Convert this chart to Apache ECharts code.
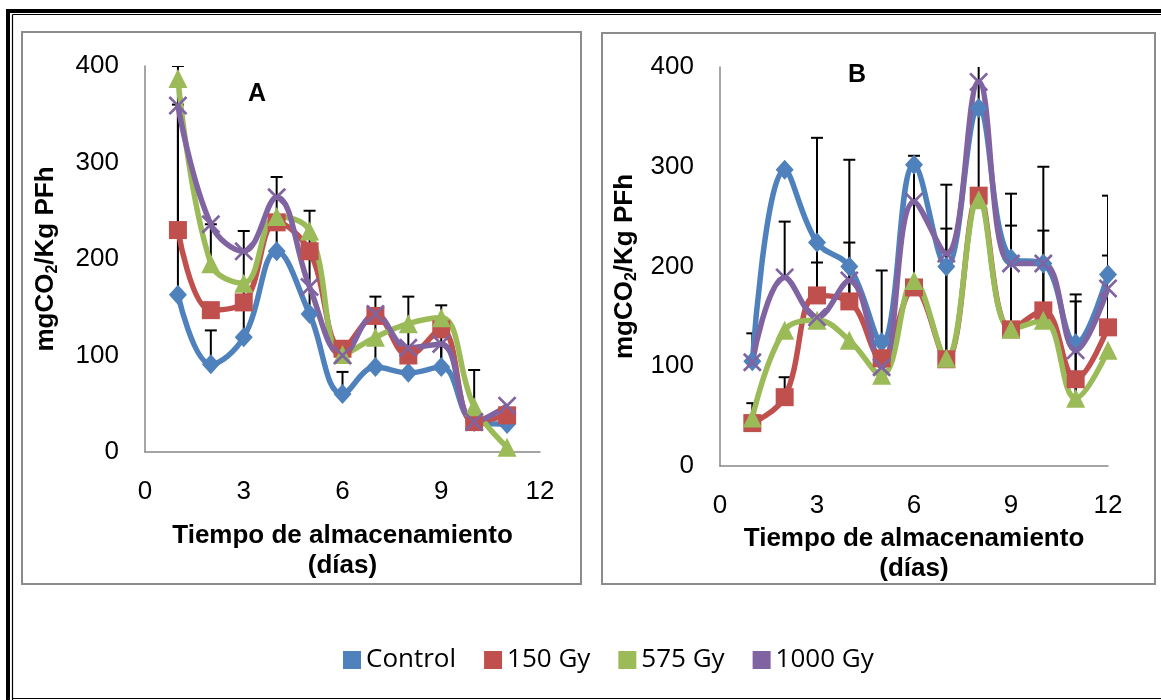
<!DOCTYPE html>
<html>
<head>
<meta charset="utf-8">
<script src="https://cdn.jsdelivr.net/npm/echarts@6/dist/echarts.min.js"></script>
<style>
  html, body { margin: 0; padding: 0; background: #ffffff; }
  #chart { width: 1161px; height: 700px; }
</style>
</head>
<body>
<div id="chart"></div>
<script>
// Storage time (days)
const daysA = [1, 2, 3, 4, 5, 6, 7, 8, 9, 10, 11];
const daysB = [1, 2, 3, 4, 5, 6, 7, 8, 9, 10, 11, 12];

// Panel A: respiration rate, mg CO2 / kg fresh product / h
const controlA = [163, 91, 119, 208, 143, 60, 88, 82, 88, 31, 29];
const gy150A   = [230, 147, 155, 238, 208, 107, 141, 100, 127, 31, 38];
const gy575A   = [387, 195, 175, 244, 229, 101, 119, 133, 139, 47, 5];
const gy1000A  = [359, 236, 208, 264, 171, 100, 143, 108, 112, 31, 48];

// Panel B
const controlB = [105, 297, 224, 200, 124, 302, 200, 359, 208, 203, 123, 192];
const gy150B   = [43, 69, 171, 165, 108, 179, 107, 271, 137, 156, 87, 139];
const gy575B   = [48, 136, 146, 126, 91, 186, 108, 267, 137, 146, 68, 116];
const gy1000B  = [104, 189, 149, 186, 99, 265, 213, 385, 203, 203, 116, 178];

// Positive error bars: [day, from, to]
const errorsA = [
  [1, 163, 400], [1, 230, 360], [2, 91, 126], [2, 195, 236], [3, 119, 229],
  [4, 208, 285], [5, 143, 250], [6, 60, 83], [7, 88, 161], [8, 82, 161],
  [9, 88, 152], [9, 88, 110], [10, 47, 85]
];
const errorsB = [
  [1, 105, 133], [1, 43, 63], [2, 189, 245], [2, 69, 89], [3, 171, 329],
  [3, 171, 204], [4, 165, 307], [4, 165, 224], [5, 108, 196], [6, 179, 311],
  [7, 107, 282], [7, 107, 238], [8, 267, 440], [9, 137, 273], [9, 137, 241],
  [10, 146, 300], [10, 146, 236], [11, 68, 172], [11, 68, 165], [12, 139, 271],
  [12, 139, 211]
];

// Axis ticks
const xTicks = [0, 3, 6, 9, 12];
const yTicks = [0, 100, 200, 300, 400];

const seriesNames = ['Control', '150 Gy', '575 Gy', '1000 Gy'];
const colors = ['#4F81BD', '#C0504D', '#9BBB59', '#8064A2'];
const crossPath = 'path://M0,1 L1,0 L5,4 L9,0 L10,1 L6,5 L10,9 L9,10 L5,6 L1,10 L0,9 L4,5 Z';
const symbols = ['diamond', 'rect', 'triangle', crossPath];
const symbolSizes = [[18, 20], 18, 19, 19];

const FONT = "'Liberation Sans', Arial, sans-serif";

function lineSeries(idx, days, values, axisIdx) {
  return {
    type: 'line',
    name: seriesNames[idx],
    xAxisIndex: axisIdx,
    yAxisIndex: axisIdx,
    data: days.map((d, i) => [d, values[i]]),
    smooth: 0.4,
    symbol: symbols[idx],
    symbolSize: symbolSizes[idx],
    showSymbol: true,
    lineStyle: { color: colors[idx], width: 5.5 },
    itemStyle: { color: colors[idx] },
    emphasis: { disabled: true },
    z: 3
  };
}

function errorSeries(list, axisIdx) {
  return {
    type: 'custom',
    xAxisIndex: axisIdx,
    yAxisIndex: axisIdx,
    data: list,
    clip: true,
    z: 2,
    silent: true,
    renderItem: function (params, api) {
      const x = api.value(0);
      const p0 = api.coord([x, api.value(1)]);
      const p1 = api.coord([x, api.value(2)]);
      const cap = 6;
      const st = { stroke: '#000000', lineWidth: 2 };
      return {
        type: 'group',
        children: [
          { type: 'line', shape: { x1: p0[0], y1: p0[1], x2: p1[0], y2: p1[1] }, style: st },
          { type: 'line', shape: { x1: p1[0] - cap, y1: p1[1], x2: p1[0] + cap, y2: p1[1] }, style: st }
        ]
      };
    }
  };
}

const yName = '{a|mgCO}{s|2}{a|/Kg PFh}';
const yNameRich = {
  a: { fontSize: 26, fontWeight: 'bold', fontFamily: FONT, color: '#000', lineHeight: 30 },
  s: { fontSize: 16, fontWeight: 'bold', fontFamily: FONT, color: '#000', lineHeight: 10, verticalAlign: 'bottom' }
};

function xAxis(gridIdx, gap) {
  return {
    type: 'value', gridIndex: gridIdx,
    min: xTicks[0], max: xTicks[xTicks.length - 1], interval: xTicks[1] - xTicks[0],
    axisLine: { show: true, lineStyle: { color: '#888888', width: 1.5 } },
    axisTick: { show: false },
    splitLine: { show: false },
    axisLabel: { fontSize: 26, color: '#000', fontFamily: FONT, margin: 27 },
    name: 'Tiempo de almacenamiento\n(días)',
    nameLocation: 'middle',
    nameGap: gap,
    nameTextStyle: { fontSize: 26, fontWeight: 'bold', color: '#000', fontFamily: FONT, lineHeight: 30 }
  };
}

function yAxis(gridIdx, gap) {
  return {
    type: 'value', gridIndex: gridIdx,
    min: yTicks[0], max: yTicks[yTicks.length - 1], interval: yTicks[1] - yTicks[0],
    axisLine: { show: true, lineStyle: { color: '#888888', width: 1.5 } },
    axisTick: { show: false },
    splitLine: { show: false },
    axisLabel: { fontSize: 26, color: '#000', fontFamily: FONT, margin: 26 },
    name: yName,
    nameLocation: 'middle',
    nameGap: gap,
    nameRotate: 90,
    nameTextStyle: { rich: yNameRich }
  };
}

const chart = echarts.init(document.getElementById('chart'), null, { renderer: 'canvas' });

const option = {
  animation: false,
  backgroundColor: '#ffffff',
  grid: [
    { left: 145, top: 66, width: 395, height: 386 },
    { left: 720, top: 67, width: 388, height: 399 }
  ],
  xAxis: [xAxis(0, 69), xAxis(1, 57)],
  yAxis: [yAxis(0, 84), yAxis(1, 80)],
  legend: {
    data: seriesNames,
    left: 338,
    top: 642,
    icon: 'rect',
    itemWidth: 18,
    itemHeight: 18,
    itemGap: 28,
    selectedMode: false,
    textStyle: { fontSize: 26, color: '#000', fontFamily: "'Open Sans', sans-serif" }
  },
  graphic: [
    // outer double frame
    { type: 'rect', shape: { x: 6, y: 9, width: 4, height: 691 }, style: { fill: '#000' }, silent: true },
    { type: 'rect', shape: { x: 6, y: 9, width: 1155, height: 4 }, style: { fill: '#000' }, silent: true },
    { type: 'line', shape: { x1: 12.5, y1: 14.5, x2: 12.5, y2: 700 }, style: { stroke: '#000', lineWidth: 1.2 }, silent: true },
    { type: 'line', shape: { x1: 12.5, y1: 14.5, x2: 1161, y2: 14.5 }, style: { stroke: '#000', lineWidth: 1.2 }, silent: true },
    { type: 'line', shape: { x1: 12.5, y1: 698.5, x2: 1161, y2: 698.5 }, style: { stroke: '#000', lineWidth: 1.2 }, silent: true },
    // panel boxes
    { type: 'rect', shape: { x: 22, y: 32, width: 559, height: 552 }, style: { fill: null, stroke: '#8c8c8c', lineWidth: 2 }, silent: true },
    { type: 'rect', shape: { x: 602, y: 33, width: 553, height: 551 }, style: { fill: null, stroke: '#8c8c8c', lineWidth: 2 }, silent: true },
    // panel letters
    { type: 'text', x: 257, y: 94, style: { text: 'A', fontSize: 25, fontWeight: 'bold', fontFamily: FONT, fill: '#000', textAlign: 'center', textVerticalAlign: 'middle' }, silent: true },
    { type: 'text', x: 857, y: 75, style: { text: 'B', fontSize: 25, fontWeight: 'bold', fontFamily: FONT, fill: '#000', textAlign: 'center', textVerticalAlign: 'middle' }, silent: true }
  ],
  series: [
    errorSeries(errorsA, 0),
    lineSeries(0, daysA, controlA, 0),
    lineSeries(1, daysA, gy150A, 0),
    lineSeries(2, daysA, gy575A, 0),
    lineSeries(3, daysA, gy1000A, 0),
    errorSeries(errorsB, 1),
    lineSeries(0, daysB, controlB, 1),
    lineSeries(1, daysB, gy150B, 1),
    lineSeries(2, daysB, gy575B, 1),
    lineSeries(3, daysB, gy1000B, 1)
  ]
};

chart.setOption(option);
</script>
</body>
</html>
